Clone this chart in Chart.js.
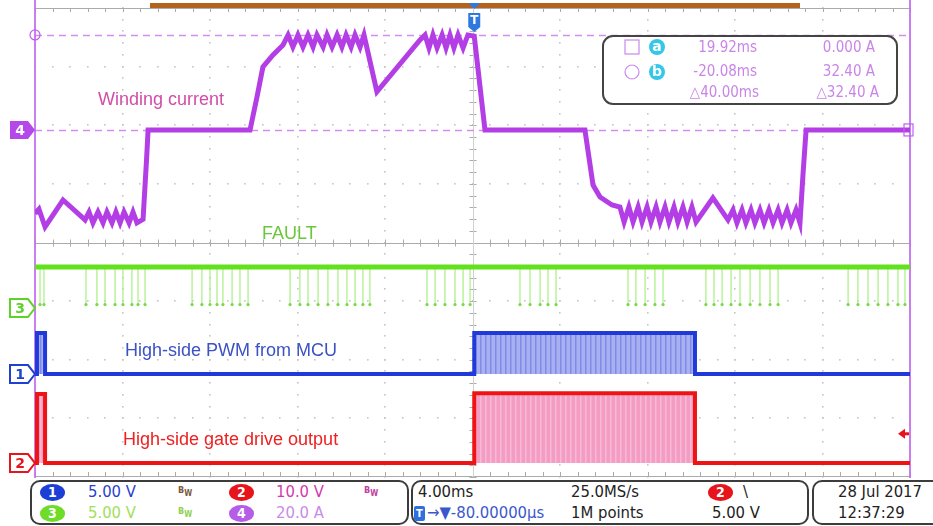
<!DOCTYPE html>
<html>
<head>
<meta charset="utf-8">
<script src="https://cdn.jsdelivr.net/npm/chart.js@4.4.1/dist/chart.umd.min.js"></script>
<style>
body{margin:0;background:#fff}
#wrap{position:relative;width:933px;height:526px;overflow:hidden;background:#fff;font-family:'DejaVu Sans Condensed','Liberation Sans Narrow','DejaVu Sans',sans-serif}
#scope{position:absolute;left:0;top:0}
.box{position:absolute;top:480px;height:45px;border:2px solid #3c3c3c;border-radius:10px;box-sizing:border-box}
.t{position:absolute;font-size:16.5px;line-height:18px;white-space:nowrap}
.badge{position:absolute;width:25px;height:17px;border-radius:50%;color:#fff;font-size:14px;text-align:center;line-height:17px;font-weight:bold}
.bw{position:absolute;font-size:9px;line-height:10px;font-weight:bold}
.bw sub{font-size:8px;vertical-align:-3px}
</style>
</head>
<body>
<div id="wrap">
<canvas id="scope" width="933" height="480"></canvas>

<div class="box" style="left:30px;width:379px"></div>
<div class="box" style="left:411px;width:398px"></div>
<div class="box" style="left:812px;width:140px"></div>

<span class="badge" style="left:40px;top:484px;background:#1d3fd6">1</span>
<span class="t" style="left:88px;top:483px;color:#2a3fcc">5.00 V</span>
<span class="bw" style="left:178px;top:485px;color:#7a5a40">B<sub>W</sub></span>
<span class="badge" style="left:229px;top:484px;background:#e8141c">2</span>
<span class="t" style="left:276px;top:483px;color:#d43aa8">10.0 V</span>
<span class="bw" style="left:364px;top:485px;color:#c040a0">B<sub>W</sub></span>

<span class="badge" style="left:40px;top:505px;background:#6fdc2a">3</span>
<span class="t" style="left:88px;top:504px;color:#9fe05a">5.00 V</span>
<span class="bw" style="left:178px;top:506px;color:#8fd050">B<sub>W</sub></span>
<span class="badge" style="left:229px;top:505px;background:#b55ce8">4</span>
<span class="t" style="left:276px;top:504px;color:#c98ae8">20.0 A</span>

<span class="t" style="left:418px;top:483px;color:#222">4.00ms</span>
<span class="t" style="left:571px;top:483px;color:#222">25.0MS/s</span>
<span class="badge" style="left:708px;top:484px;background:#e8141c">2</span>
<span class="t" style="left:743px;top:483px;color:#222">\</span>
<span class="badge" style="left:414px;top:506px;width:11px;height:15px;border-radius:2px;background:#2d6fe0;font-size:11px;line-height:15px">T</span>
<span class="t" style="left:427px;top:504px;color:#3a58cc">→▼-80.00000µs</span>
<span class="t" style="left:571px;top:504px;color:#222">1M points</span>
<span class="t" style="left:712px;top:504px;color:#222">5.00 V</span>

<span class="t" style="left:838px;top:483px;color:#222">28 Jul  2017</span>
<span class="t" style="left:838px;top:504px;color:#222">12:37:29</span>
</div>

<script>
// screen spans 10 div x 4 ms, cursors sit on the edges
var X_MIN = -20.08, X_MAX = 19.92

// ch4 winding current (A)
var curT = [-20.08,-19.9,-19.62,-18.80,-17.79,
  -17.61,-17.43,-17.20,-16.97,-16.79,-16.56,-16.38,-16.19,-16.01,-15.78,-15.60,-15.42,
  -15.14,-14.98,-14.91,
  -10.25,-9.93,-9.66,-9.20,-8.74,
  -8.51,-8.29,-8.06,-7.83,-7.60,-7.37,-7.19,-6.91,-6.73,-6.50,-6.27,-6.05,-5.86,-5.63,-5.45,-5.22,-5.04,
  -4.45,-2.48,
  -2.25,-2.07,-1.89,-1.70,-1.47,-1.29,-1.11,-0.93,-0.74,-0.51,-0.29,
  0.0,0.49,
  5.06,5.43,5.75,6.30,
  6.66,6.85,7.07,7.26,7.49,7.67,7.90,8.08,8.31,8.49,8.72,8.90,9.13,9.31,9.54,9.73,9.95,10.14,
  10.91,11.60,
  11.83,12.01,12.24,12.42,12.65,12.83,13.06,13.25,13.47,13.66,13.89,14.07,14.30,14.48,14.71,14.89,
  15.03,15.17,19.92]
var curA = [-28.5,-27.0,-33.1,-23.9,-30.7,
  -28.0,-31.7,-28.0,-31.7,-28.0,-31.7,-28.0,-31.7,-28.0,-31.7,-28.0,-31.7,
  -30.5,-10.0,0,
  0,11.3,21.5,25.6,29.0,
  32.4,28.3,32.4,28.3,32.4,28.3,32.4,28.3,32.4,28.3,32.4,28.3,32.4,28.3,32.4,28.3,32.4,
  13.0,30.7,
  32.4,28.0,32.4,28.0,32.4,28.0,32.4,28.0,32.4,28.0,32.4,
  32.0,0,
  0,-18.8,-22.9,-25.6,
  -26.3,-31.4,-26.3,-31.4,-26.3,-31.4,-26.3,-31.4,-26.3,-31.4,-26.3,-31.4,-26.3,-31.4,-26.3,-31.4,-26.3,-31.4,
  -23.2,-30.7,
  -27.3,-31.7,-27.3,-31.7,-27.3,-31.7,-27.3,-31.7,-27.3,-31.7,-27.3,-31.7,-27.3,-31.7,-27.3,-31.7,
  -15.0,0,0]

// ch3 FAULT (V): idle level and the low-going pulses
var faultHigh = 3.5
var faultLow = 0.3
var faultPulseT = [-19.85,-19.67,
  -17.75,-17.25,-16.88,-16.42,-16.06,-15.65,-15.37,-15.05,
  -12.90,-12.45,-12.08,-11.76,-11.49,-11.07,-10.71,-10.34,
  -8.42,-7.97,-7.60,-7.14,-6.69,-6.23,-5.82,-5.45,-5.09,-4.77,
  -2.16,-1.79,-1.34,-0.88,-0.51,-0.19,
  2.09,2.55,3.01,3.37,3.74,
  7.03,7.39,7.81,8.26,8.63,
  10.59,10.96,11.33,11.74,12.15,12.61,13.06,13.52,13.89,
  17.09,17.54,18.00,18.46,18.91,19.37,19.69]

// ch1 high-side PWM from MCU (V) and ch2 gate drive (V): burst envelopes
var pwmT  = [-20.08,-19.99,-19.99,-19.62,-19.62,0.0,0.0,10.09,10.09,19.92]
var pwmV  = [0,0,3.5,3.5,0,0,3.5,3.5,0,0]
var gateT = [-20.08,-19.99,-19.99,-19.62,-19.62,0.0,0.0,10.09,10.09,19.92]
var gateV = [0,0,11.8,11.8,0,0,11.9,11.9,0,0]

// cursors a / b
var cursorT = [19.92, -20.08]
var cursorA = [0.0, 32.4]

// channel reference position (div from centre) and scale per div
var ch = {
  yI: {off: 1.92,  per: 20},
  yF: {off: -1.118, per: 5},
  yP: {off: -2.244, per: 5},
  yG: {off: -3.763, per: 10}
}
function axis(c){ return {type:'linear', display:false, min:(-4 - c.off)*c.per, max:(4 - c.off)*c.per} }

function pts(t, v){ return t.map(function(x, i){ return {x:x, y:v[i]} }) }

var faultPulses = []
faultPulseT.forEach(function(t){
  faultPulses.push({x:t, y:faultHigh}, {x:t, y:faultLow}, {x:t, y:null})
})

var canvas = document.getElementById('scope')
var ctx = canvas.getContext('2d')

function stripes(base, line, period){
  var tile = document.createElement('canvas')
  tile.width = period; tile.height = 4
  var g = tile.getContext('2d')
  g.fillStyle = base; g.fillRect(0, 0, period, 4)
  g.fillStyle = line; g.fillRect(0, 0, 1.5, 4)
  return ctx.createPattern(tile, 'repeat')
}

function tag(c, y, label, col, filled){
  c.beginPath()
  c.moveTo(10, y - 9); c.lineTo(28, y - 9); c.lineTo(35, y); c.lineTo(28, y + 9); c.lineTo(10, y + 9); c.closePath()
  if(filled){ c.fillStyle = col; c.fill() }
  else { c.fillStyle = '#fff'; c.fill(); c.lineWidth = 2; c.strokeStyle = col; c.stroke() }
  c.fillStyle = filled ? '#fff' : col
  c.font = 'bold 14px "DejaVu Sans"'
  c.textAlign = 'center'; c.textBaseline = 'middle'
  c.fillText(label, 20, y + 1)
}

var scopeDecor = {
  id: 'scopeDecor',
  beforeDatasetsDraw: function(chart){
    var c = chart.ctx, a = chart.chartArea
    var dx = (a.right - a.left)/10, dy = (a.bottom - a.top)/8
    var cx = a.left + 5*dx, cy = a.top + 4*dy
    c.save()
    // dotted graticule
    c.fillStyle = '#c6c6c6'
    for(var i = 1; i < 10; i++){
      if(i == 5) continue
      for(var j = 0; j <= 40; j++) c.fillRect(Math.round(a.left + i*dx) - 1, Math.round(a.top + j*dy/5) - 1, 1.6, 1.6)
    }
    for(var j = 1; j < 8; j++){
      if(j == 4) continue
      for(var i = 0; i <= 50; i++) c.fillRect(Math.round(a.left + i*dx/5) - 1, Math.round(a.top + j*dy) - 1, 1.6, 1.6)
    }
    // centre axes and edge ticks
    c.strokeStyle = '#ababab'; c.lineWidth = 1
    c.beginPath()
    c.moveTo(a.left, Math.round(cy) + 0.5); c.lineTo(a.right, Math.round(cy) + 0.5)
    c.moveTo(a.left, Math.round(a.bottom) - 0.5); c.lineTo(a.right, Math.round(a.bottom) - 0.5)
    c.moveTo(a.left, a.top + 0.5); c.lineTo(a.right, a.top + 0.5)
    for(var i = 0; i <= 50; i++){
      var px = Math.round(a.left + i*dx/5) + 0.5
      c.moveTo(px, cy - 3); c.lineTo(px, cy + 4)
      c.moveTo(px, a.bottom - 5); c.lineTo(px, a.bottom)
      c.moveTo(px, a.top); c.lineTo(px, a.top + 4)
    }
    for(var j = 0; j <= 40; j++){
      var py = Math.round(a.top + j*dy/5) + 0.5
      c.moveTo(cx - 3, py); c.lineTo(cx + 4, py)
    }
    c.stroke()
    c.strokeStyle = '#d0d0d0'
    c.beginPath(); c.moveTo(Math.round(cx) + 0.5, a.top); c.lineTo(Math.round(cx) + 0.5, a.bottom); c.stroke()

    // record bar above the graticule
    c.fillStyle = '#b4631e'
    c.fillRect(150, 3, 650, 5)

    // cursor lines
    var yI = chart.scales.yI, x = chart.scales.x
    c.strokeStyle = '#d58cf0'; c.lineWidth = 1.3; c.setLineDash([7, 5])
    cursorA.forEach(function(v){
      var py = Math.round(yI.getPixelForValue(v)) + 0.5
      c.beginPath(); c.moveTo(a.left, py); c.lineTo(a.right, py); c.stroke()
    })
    c.setLineDash([])
    c.strokeStyle = '#c470f0'; c.lineWidth = 1.8
    cursorT.forEach(function(t){
      var px = x.getPixelForValue(t)
      c.beginPath(); c.moveTo(px, 0); c.lineTo(px, 478); c.stroke()
    })
    c.restore()
  },
  afterDatasetsDraw: function(chart){
    var c = chart.ctx, a = chart.chartArea, x = chart.scales.x, sc = chart.scales
    c.save()
    // cursor end markers
    c.strokeStyle = '#c05ef0'; c.lineWidth = 1.2
    c.beginPath(); c.arc(x.getPixelForValue(cursorT[1]), sc.yI.getPixelForValue(cursorA[1]), 5, 0, Math.PI*2); c.stroke()
    c.strokeRect(x.getPixelForValue(cursorT[0]) - 6, sc.yI.getPixelForValue(cursorA[0]) - 6, 9, 12)

    // channel reference tags
    tag(c, sc.yI.getPixelForValue(0), '4', '#b548e8', true)
    tag(c, sc.yF.getPixelForValue(0), '3', '#62d02a', false)
    tag(c, sc.yP.getPixelForValue(0), '1', '#2040d0', false)
    tag(c, sc.yG.getPixelForValue(0), '2', '#e8141c', false)

    // trigger position marker
    var tx = x.getPixelForValue(0)
    c.fillStyle = '#2f78e0'
    c.beginPath(); c.moveTo(tx - 6, 3); c.lineTo(tx + 6, 3); c.lineTo(tx, 9); c.closePath(); c.fill()
    c.beginPath(); c.moveTo(tx - 6, 13); c.lineTo(tx + 6, 13); c.lineTo(tx + 6, 27); c.lineTo(tx, 32); c.lineTo(tx - 6, 27); c.closePath(); c.fill()
    c.fillStyle = '#fff'; c.font = 'bold 12px "DejaVu Sans"'; c.textAlign = 'center'; c.textBaseline = 'middle'
    c.fillText('T', tx, 21)

    // trigger level arrow (ch2)
    var ly = sc.yG.getPixelForValue(5)
    c.fillStyle = '#e8141c'
    c.beginPath(); c.moveTo(898, ly); c.lineTo(905, ly - 5); c.lineTo(905, ly + 5); c.closePath(); c.fill()
    c.fillRect(904, ly - 1.5, 5, 3)

    // trace labels
    c.textAlign = 'left'; c.textBaseline = 'middle'; c.font = '18px "Liberation Sans"'
    c.fillStyle = '#d24ca8'; c.fillText('Winding current', 98, 100)
    c.fillStyle = '#6cc63a'; c.fillText('FAULT', 262, 234)
    c.fillStyle = '#3a52c4'; c.fillText('High-side PWM from MCU', 125, 351)
    c.fillStyle = '#ee2020'; c.fillText('High-side gate drive output', 123, 440)

    // cursor readout
    c.fillStyle = '#fff'; c.strokeStyle = '#444'; c.lineWidth = 2
    c.beginPath(); c.roundRect(603, 36, 294, 68, 10); c.fill(); c.stroke()
    c.strokeStyle = '#c98ae8'; c.lineWidth = 1.2
    c.strokeRect(625, 40, 14, 14)
    c.beginPath(); c.arc(632, 72, 7, 0, Math.PI*2); c.stroke()
    c.fillStyle = '#33c8e8'
    c.beginPath(); c.arc(657, 47, 8, 0, Math.PI*2); c.fill()
    c.beginPath(); c.arc(657, 72, 8, 0, Math.PI*2); c.fill()
    c.fillStyle = '#fff'; c.font = 'bold 14px "DejaVu Sans"'; c.textAlign = 'center'
    c.fillText('a', 657, 47); c.fillText('b', 657, 72)
    c.fillStyle = '#c985e8'; c.font = '15px "DejaVu Sans Condensed", "DejaVu Sans"'; c.textAlign = 'right'
    c.fillText(cursorT[0].toFixed(2) + 'ms', 757, 48)
    c.fillText(cursorA[0].toFixed(3) + ' A', 875, 48)
    c.fillText('-' + Math.abs(cursorT[1]).toFixed(2) + 'ms', 757, 72)
    c.fillText(cursorA[1].toFixed(2) + ' A', 875, 72)
    c.fillText('△' + (cursorT[0] - cursorT[1]).toFixed(2) + 'ms', 759, 93)
    c.fillText('△' + Math.abs(cursorA[1] - cursorA[0]).toFixed(2) + ' A', 879, 93)
    c.restore()
  }
}

new Chart(ctx, {
  type: 'line',
  data: {
    datasets: [
      {data: pts(curT, curA), yAxisID: 'yI', borderColor: '#b43ee6', borderWidth: 5},
      {data: [{x: X_MIN, y: faultHigh}, {x: X_MAX, y: faultHigh}], yAxisID: 'yF', borderColor: '#62e21c', borderWidth: 5},
      {data: faultPulses, yAxisID: 'yF', borderColor: '#a9ef84', borderWidth: 1.2,
        pointRadius: function(p){ return p.raw && p.raw.y === faultLow ? 1.6 : 0 },
        pointBackgroundColor: '#7ad84a', pointBorderWidth: 0},
      {data: pts(pwmT, pwmV), yAxisID: 'yP', borderColor: '#1f3ad8', borderWidth: 4,
        fill: {value: 0}, backgroundColor: stripes('#a8b0f3', '#7f8ce6', 5)},
      {data: pts(gateT, gateV), yAxisID: 'yG', borderColor: '#ef1414', borderWidth: 4,
        fill: {value: 0}, backgroundColor: stripes('#f59cc4', '#f7b9d6', 5)}
    ]
  },
  options: {
    responsive: false,
    animation: false,
    events: [],
    layout: {padding: {left: 35, right: 23, top: 8, bottom: 3}},
    elements: {point: {radius: 0}, line: {tension: 0}},
    plugins: {legend: {display: false}, tooltip: {enabled: false}},
    scales: {
      x: {type: 'linear', display: false, min: X_MIN, max: X_MAX},
      yI: axis(ch.yI),
      yF: axis(ch.yF),
      yP: axis(ch.yP),
      yG: axis(ch.yG)
    }
  },
  plugins: [scopeDecor]
})
</script>
</body>
</html>
